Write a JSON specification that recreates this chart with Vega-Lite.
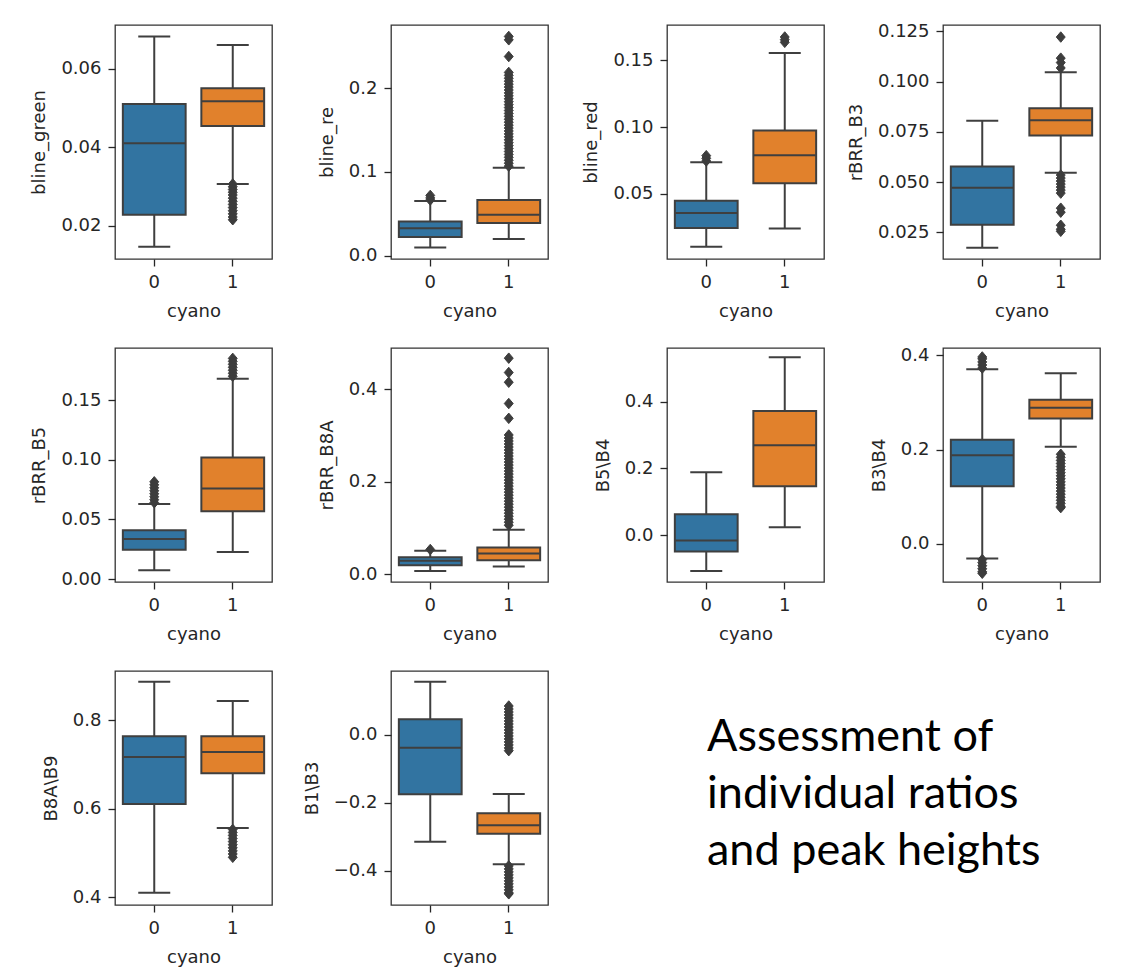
{
"$schema": "https://vega.github.io/schema/vega-lite/v6.json",
"background": "white",
"padding": {"left": 30, "top": 21, "right": 5, "bottom": 5},
"datasets": {"all": [
{"var":"bline_green","cyano":0,"lo":0.0146,"q1":0.0228,"med":0.041,"q3":0.051,"hi":0.0682},
{"var":"bline_green","cyano":1,"lo":0.0306,"q1":0.0454,"med":0.0517,"q3":0.055,"hi":0.066},
{"var":"bline_re","cyano":0,"lo":0.0096,"q1":0.0224,"med":0.0329,"q3":0.0408,"hi":0.0653},
{"var":"bline_re","cyano":1,"lo":0.02,"q1":0.0389,"med":0.0488,"q3":0.0665,"hi":0.1052},
{"var":"bline_red","cyano":0,"lo":0.0102,"q1":0.0243,"med":0.0355,"q3":0.0447,"hi":0.0735},
{"var":"bline_red","cyano":1,"lo":0.0238,"q1":0.0578,"med":0.0788,"q3":0.0973,"hi":0.1555},
{"var":"rBRR_B3","cyano":0,"lo":0.0173,"q1":0.0287,"med":0.0472,"q3":0.0578,"hi":0.0805},
{"var":"rBRR_B3","cyano":1,"lo":0.0547,"q1":0.0732,"med":0.0808,"q3":0.0867,"hi":0.1047},
{"var":"rBRR_B5","cyano":0,"lo":0.0073,"q1":0.0246,"med":0.0336,"q3":0.0409,"hi":0.063},
{"var":"rBRR_B5","cyano":1,"lo":0.0227,"q1":0.0568,"med":0.0759,"q3":0.1019,"hi":0.168},
{"var":"rBRR_B8A","cyano":0,"lo":0.0073,"q1":0.0196,"med":0.029,"q3":0.037,"hi":0.0508},
{"var":"rBRR_B8A","cyano":1,"lo":0.0167,"q1":0.0305,"med":0.045,"q3":0.058,"hi":0.0964},
{"var":"B5\\B4","cyano":0,"lo":-0.1078,"q1":-0.0494,"med":-0.0161,"q3":0.0625,"hi":0.1885},
{"var":"B5\\B4","cyano":1,"lo":0.0232,"q1":0.147,"med":0.27,"q3":0.373,"hi":0.534},
{"var":"B3\\B4","cyano":0,"lo":-0.0306,"q1":0.1225,"med":0.188,"q3":0.2207,"hi":0.37},
{"var":"B3\\B4","cyano":1,"lo":0.2058,"q1":0.2656,"med":0.2884,"q3":0.3054,"hi":0.3617},
{"var":"B8A\\B9","cyano":0,"lo":0.4105,"q1":0.611,"med":0.7172,"q3":0.7638,"hi":0.8873},
{"var":"B8A\\B9","cyano":1,"lo":0.5568,"q1":0.6803,"med":0.7285,"q3":0.7638,"hi":0.8437},
{"var":"B1\\B3","cyano":0,"lo":-0.3147,"q1":-0.1755,"med":-0.0382,"q3":0.0451,"hi":0.1559},
{"var":"B1\\B3","cyano":1,"lo":-0.3814,"q1":-0.2912,"med":-0.2667,"q3":-0.2314,"hi":-0.1745},
{"var":"bline_green","cyano":1,"out":0.0306},{"var":"bline_green","cyano":1,"out":0.0299},{"var":"bline_green","cyano":1,"out":0.0292},{"var":"bline_green","cyano":1,"out":0.0285},{"var":"bline_green","cyano":1,"out":0.0278},{"var":"bline_green","cyano":1,"out":0.027},{"var":"bline_green","cyano":1,"out":0.0262},{"var":"bline_green","cyano":1,"out":0.0254},{"var":"bline_green","cyano":1,"out":0.0246},{"var":"bline_green","cyano":1,"out":0.0238},{"var":"bline_green","cyano":1,"out":0.023},{"var":"bline_green","cyano":1,"out":0.0222},{"var":"bline_green","cyano":1,"out":0.0215},
{"var":"bline_re","cyano":0,"out":0.0665},{"var":"bline_re","cyano":0,"out":0.069},{"var":"bline_re","cyano":0,"out":0.072},
{"var":"bline_re","cyano":1,"out":0.107},{"var":"bline_re","cyano":1,"out":0.1105},{"var":"bline_re","cyano":1,"out":0.114},{"var":"bline_re","cyano":1,"out":0.1175},{"var":"bline_re","cyano":1,"out":0.121},{"var":"bline_re","cyano":1,"out":0.1245},{"var":"bline_re","cyano":1,"out":0.128},{"var":"bline_re","cyano":1,"out":0.1315},{"var":"bline_re","cyano":1,"out":0.135},{"var":"bline_re","cyano":1,"out":0.1385},{"var":"bline_re","cyano":1,"out":0.142},{"var":"bline_re","cyano":1,"out":0.1455},{"var":"bline_re","cyano":1,"out":0.149},{"var":"bline_re","cyano":1,"out":0.1525},{"var":"bline_re","cyano":1,"out":0.156},{"var":"bline_re","cyano":1,"out":0.1595},{"var":"bline_re","cyano":1,"out":0.163},{"var":"bline_re","cyano":1,"out":0.1665},{"var":"bline_re","cyano":1,"out":0.17},{"var":"bline_re","cyano":1,"out":0.1735},{"var":"bline_re","cyano":1,"out":0.177},{"var":"bline_re","cyano":1,"out":0.1805},{"var":"bline_re","cyano":1,"out":0.184},{"var":"bline_re","cyano":1,"out":0.1875},{"var":"bline_re","cyano":1,"out":0.191},{"var":"bline_re","cyano":1,"out":0.1945},{"var":"bline_re","cyano":1,"out":0.198},{"var":"bline_re","cyano":1,"out":0.2015},{"var":"bline_re","cyano":1,"out":0.205},{"var":"bline_re","cyano":1,"out":0.2085},{"var":"bline_re","cyano":1,"out":0.212},{"var":"bline_re","cyano":1,"out":0.2155},{"var":"bline_re","cyano":1,"out":0.219},{"var":"bline_re","cyano":1,"out":0.238},{"var":"bline_re","cyano":1,"out":0.258},{"var":"bline_re","cyano":1,"out":0.262},
{"var":"bline_red","cyano":0,"out":0.0745},{"var":"bline_red","cyano":0,"out":0.0765},{"var":"bline_red","cyano":0,"out":0.0785},
{"var":"bline_red","cyano":1,"out":0.1635},{"var":"bline_red","cyano":1,"out":0.1655},{"var":"bline_red","cyano":1,"out":0.1675},
{"var":"rBRR_B3","cyano":1,"out":0.1222},{"var":"rBRR_B3","cyano":1,"out":0.1117},{"var":"rBRR_B3","cyano":1,"out":0.1095},{"var":"rBRR_B3","cyano":1,"out":0.1068},{"var":"rBRR_B3","cyano":1,"out":0.0535},{"var":"rBRR_B3","cyano":1,"out":0.052},{"var":"rBRR_B3","cyano":1,"out":0.0505},{"var":"rBRR_B3","cyano":1,"out":0.049},{"var":"rBRR_B3","cyano":1,"out":0.0475},{"var":"rBRR_B3","cyano":1,"out":0.046},{"var":"rBRR_B3","cyano":1,"out":0.0445},{"var":"rBRR_B3","cyano":1,"out":0.037},{"var":"rBRR_B3","cyano":1,"out":0.035},{"var":"rBRR_B3","cyano":1,"out":0.0285},{"var":"rBRR_B3","cyano":1,"out":0.0265},{"var":"rBRR_B3","cyano":1,"out":0.0255},
{"var":"rBRR_B5","cyano":0,"out":0.064},{"var":"rBRR_B5","cyano":0,"out":0.0665},{"var":"rBRR_B5","cyano":0,"out":0.069},{"var":"rBRR_B5","cyano":0,"out":0.0715},{"var":"rBRR_B5","cyano":0,"out":0.074},{"var":"rBRR_B5","cyano":0,"out":0.0765},{"var":"rBRR_B5","cyano":0,"out":0.079},{"var":"rBRR_B5","cyano":0,"out":0.0815},
{"var":"rBRR_B5","cyano":1,"out":0.17},{"var":"rBRR_B5","cyano":1,"out":0.1725},{"var":"rBRR_B5","cyano":1,"out":0.175},{"var":"rBRR_B5","cyano":1,"out":0.1775},{"var":"rBRR_B5","cyano":1,"out":0.18},{"var":"rBRR_B5","cyano":1,"out":0.1825},{"var":"rBRR_B5","cyano":1,"out":0.185},
{"var":"rBRR_B8A","cyano":0,"out":0.0535},
{"var":"rBRR_B8A","cyano":1,"out":0.106},{"var":"rBRR_B8A","cyano":1,"out":0.1125},{"var":"rBRR_B8A","cyano":1,"out":0.119},{"var":"rBRR_B8A","cyano":1,"out":0.1255},{"var":"rBRR_B8A","cyano":1,"out":0.132},{"var":"rBRR_B8A","cyano":1,"out":0.1385},{"var":"rBRR_B8A","cyano":1,"out":0.145},{"var":"rBRR_B8A","cyano":1,"out":0.1515},{"var":"rBRR_B8A","cyano":1,"out":0.158},{"var":"rBRR_B8A","cyano":1,"out":0.1645},{"var":"rBRR_B8A","cyano":1,"out":0.171},{"var":"rBRR_B8A","cyano":1,"out":0.1775},{"var":"rBRR_B8A","cyano":1,"out":0.184},{"var":"rBRR_B8A","cyano":1,"out":0.1905},{"var":"rBRR_B8A","cyano":1,"out":0.197},{"var":"rBRR_B8A","cyano":1,"out":0.2035},{"var":"rBRR_B8A","cyano":1,"out":0.21},{"var":"rBRR_B8A","cyano":1,"out":0.2165},{"var":"rBRR_B8A","cyano":1,"out":0.223},{"var":"rBRR_B8A","cyano":1,"out":0.2295},{"var":"rBRR_B8A","cyano":1,"out":0.236},{"var":"rBRR_B8A","cyano":1,"out":0.2425},{"var":"rBRR_B8A","cyano":1,"out":0.249},{"var":"rBRR_B8A","cyano":1,"out":0.2555},{"var":"rBRR_B8A","cyano":1,"out":0.262},{"var":"rBRR_B8A","cyano":1,"out":0.2685},{"var":"rBRR_B8A","cyano":1,"out":0.275},{"var":"rBRR_B8A","cyano":1,"out":0.2815},{"var":"rBRR_B8A","cyano":1,"out":0.288},{"var":"rBRR_B8A","cyano":1,"out":0.2945},{"var":"rBRR_B8A","cyano":1,"out":0.301},{"var":"rBRR_B8A","cyano":1,"out":0.337},{"var":"rBRR_B8A","cyano":1,"out":0.369},{"var":"rBRR_B8A","cyano":1,"out":0.415},{"var":"rBRR_B8A","cyano":1,"out":0.436},{"var":"rBRR_B8A","cyano":1,"out":0.467},
{"var":"B3\\B4","cyano":0,"out":0.3725},{"var":"B3\\B4","cyano":0,"out":0.379},{"var":"B3\\B4","cyano":0,"out":0.3855},{"var":"B3\\B4","cyano":0,"out":0.392},{"var":"B3\\B4","cyano":0,"out":0.396},
{"var":"B3\\B4","cyano":0,"out":-0.033},{"var":"B3\\B4","cyano":0,"out":-0.0395},{"var":"B3\\B4","cyano":0,"out":-0.046},{"var":"B3\\B4","cyano":0,"out":-0.0525},{"var":"B3\\B4","cyano":0,"out":-0.059},{"var":"B3\\B4","cyano":0,"out":-0.062},
{"var":"B3\\B4","cyano":1,"out":0.19},{"var":"B3\\B4","cyano":1,"out":0.1835},{"var":"B3\\B4","cyano":1,"out":0.177},{"var":"B3\\B4","cyano":1,"out":0.1705},{"var":"B3\\B4","cyano":1,"out":0.164},{"var":"B3\\B4","cyano":1,"out":0.1575},{"var":"B3\\B4","cyano":1,"out":0.151},{"var":"B3\\B4","cyano":1,"out":0.1445},{"var":"B3\\B4","cyano":1,"out":0.138},{"var":"B3\\B4","cyano":1,"out":0.1315},{"var":"B3\\B4","cyano":1,"out":0.125},{"var":"B3\\B4","cyano":1,"out":0.1185},{"var":"B3\\B4","cyano":1,"out":0.112},{"var":"B3\\B4","cyano":1,"out":0.1055},{"var":"B3\\B4","cyano":1,"out":0.099},{"var":"B3\\B4","cyano":1,"out":0.0925},{"var":"B3\\B4","cyano":1,"out":0.086},{"var":"B3\\B4","cyano":1,"out":0.0795},{"var":"B3\\B4","cyano":1,"out":0.077},
{"var":"B8A\\B9","cyano":1,"out":0.5535},{"var":"B8A\\B9","cyano":1,"out":0.5467},{"var":"B8A\\B9","cyano":1,"out":0.54},{"var":"B8A\\B9","cyano":1,"out":0.533},{"var":"B8A\\B9","cyano":1,"out":0.526},{"var":"B8A\\B9","cyano":1,"out":0.519},{"var":"B8A\\B9","cyano":1,"out":0.512},{"var":"B8A\\B9","cyano":1,"out":0.505},{"var":"B8A\\B9","cyano":1,"out":0.498},{"var":"B8A\\B9","cyano":1,"out":0.4905},
{"var":"B1\\B3","cyano":1,"out":0.0843},{"var":"B1\\B3","cyano":1,"out":0.0755},{"var":"B1\\B3","cyano":1,"out":0.0667},{"var":"B1\\B3","cyano":1,"out":0.058},{"var":"B1\\B3","cyano":1,"out":0.049},{"var":"B1\\B3","cyano":1,"out":0.0402},{"var":"B1\\B3","cyano":1,"out":0.0314},{"var":"B1\\B3","cyano":1,"out":0.0226},{"var":"B1\\B3","cyano":1,"out":0.0138},{"var":"B1\\B3","cyano":1,"out":0.005},{"var":"B1\\B3","cyano":1,"out":-0.0038},{"var":"B1\\B3","cyano":1,"out":-0.0126},{"var":"B1\\B3","cyano":1,"out":-0.0214},{"var":"B1\\B3","cyano":1,"out":-0.0302},{"var":"B1\\B3","cyano":1,"out":-0.039},{"var":"B1\\B3","cyano":1,"out":-0.047},
{"var":"B1\\B3","cyano":1,"out":-0.386},{"var":"B1\\B3","cyano":1,"out":-0.3948},{"var":"B1\\B3","cyano":1,"out":-0.4036},{"var":"B1\\B3","cyano":1,"out":-0.4124},{"var":"B1\\B3","cyano":1,"out":-0.4212},{"var":"B1\\B3","cyano":1,"out":-0.43},{"var":"B1\\B3","cyano":1,"out":-0.4388},{"var":"B1\\B3","cyano":1,"out":-0.4476},{"var":"B1\\B3","cyano":1,"out":-0.4564},{"var":"B1\\B3","cyano":1,"out":-0.4652},{"var":"B1\\B3","cyano":1,"out":-0.468}
]},
"data": {"name": "all"},
"columns": 4,
"bounds": "flush",
"spacing": {"row": 89, "column": 119},
"concat": [
{"width":157,"height":234,"transform":[{"filter":{"field":"var","equal":"bline_green"}}],
 "encoding":{"x":{"field":"cyano","type":"nominal","scale":{"paddingInner":0,"paddingOuter":0},"axis":{"labelAngle":0,"title":"cyano"}}},
 "layer":[
  {"mark":{"type":"rule"},"encoding":{"y":{"field":"lo","type":"quantitative","scale":{"domain":[0.0115,0.0711],"nice":false,"zero":false},"axis":{"values":[0.02,0.04,0.06],"format":".2f","title":"bline_green"}},"y2":{"field":"hi"}}},
  {"mark":{"type":"tick","size":32},"encoding":{"y":{"field":"lo","type":"quantitative","scale":{"domain":[0.0115,0.0711],"nice":false,"zero":false},"axis":{"values":[0.02,0.04,0.06],"format":".2f","title":"bline_green"}}}},
  {"mark":{"type":"tick","size":32},"encoding":{"y":{"field":"hi","type":"quantitative","scale":{"domain":[0.0115,0.0711],"nice":false,"zero":false},"axis":{"values":[0.02,0.04,0.06],"format":".2f","title":"bline_green"}}}},
  {"mark":{"type":"bar","width":{"band":0.8}},"encoding":{"y":{"field":"q1","type":"quantitative","scale":{"domain":[0.0115,0.0711],"nice":false,"zero":false},"axis":{"values":[0.02,0.04,0.06],"format":".2f","title":"bline_green"}},"y2":{"field":"q3"},"color":{"field":"cyano","type":"nominal","scale":{"domain":[0,1],"range":["#3274a1","#e1812c"]},"legend":null}}},
  {"mark":{"type":"tick","size":62},"encoding":{"y":{"field":"med","type":"quantitative","scale":{"domain":[0.0115,0.0711],"nice":false,"zero":false},"axis":{"values":[0.02,0.04,0.06],"format":".2f","title":"bline_green"}}}},
  {"mark":{"type":"point"},"encoding":{"y":{"field":"out","type":"quantitative","scale":{"domain":[0.0115,0.0711],"nice":false,"zero":false},"axis":{"values":[0.02,0.04,0.06],"format":".2f","title":"bline_green"}}}}
 ]},
{"width":157,"height":234,"transform":[{"filter":{"field":"var","equal":"bline_re"}}],
 "encoding":{"x":{"field":"cyano","type":"nominal","scale":{"paddingInner":0,"paddingOuter":0},"axis":{"labelAngle":0,"title":"cyano"}}},
 "layer":[
  {"mark":{"type":"rule"},"encoding":{"y":{"field":"lo","type":"quantitative","scale":{"domain":[-0.004,0.2757],"nice":false,"zero":false},"axis":{"values":[0,0.1,0.2],"format":".1f","title":"bline_re"}},"y2":{"field":"hi"}}},
  {"mark":{"type":"tick","size":32},"encoding":{"y":{"field":"lo","type":"quantitative","scale":{"domain":[-0.004,0.2757],"nice":false,"zero":false},"axis":{"values":[0,0.1,0.2],"format":".1f","title":"bline_re"}}}},
  {"mark":{"type":"tick","size":32},"encoding":{"y":{"field":"hi","type":"quantitative","scale":{"domain":[-0.004,0.2757],"nice":false,"zero":false},"axis":{"values":[0,0.1,0.2],"format":".1f","title":"bline_re"}}}},
  {"mark":{"type":"bar","width":{"band":0.8}},"encoding":{"y":{"field":"q1","type":"quantitative","scale":{"domain":[-0.004,0.2757],"nice":false,"zero":false},"axis":{"values":[0,0.1,0.2],"format":".1f","title":"bline_re"}},"y2":{"field":"q3"},"color":{"field":"cyano","type":"nominal","scale":{"domain":[0,1],"range":["#3274a1","#e1812c"]},"legend":null}}},
  {"mark":{"type":"tick","size":62},"encoding":{"y":{"field":"med","type":"quantitative","scale":{"domain":[-0.004,0.2757],"nice":false,"zero":false},"axis":{"values":[0,0.1,0.2],"format":".1f","title":"bline_re"}}}},
  {"mark":{"type":"point"},"encoding":{"y":{"field":"out","type":"quantitative","scale":{"domain":[-0.004,0.2757],"nice":false,"zero":false},"axis":{"values":[0,0.1,0.2],"format":".1f","title":"bline_re"}}}}
 ]},
{"width":157,"height":234,"transform":[{"filter":{"field":"var","equal":"bline_red"}}],
 "encoding":{"x":{"field":"cyano","type":"nominal","scale":{"paddingInner":0,"paddingOuter":0},"axis":{"labelAngle":0,"title":"cyano"}}},
 "layer":[
  {"mark":{"type":"rule"},"encoding":{"y":{"field":"lo","type":"quantitative","scale":{"domain":[0.001,0.1765],"nice":false,"zero":false},"axis":{"values":[0.05,0.1,0.15],"format":".2f","title":"bline_red"}},"y2":{"field":"hi"}}},
  {"mark":{"type":"tick","size":32},"encoding":{"y":{"field":"lo","type":"quantitative","scale":{"domain":[0.001,0.1765],"nice":false,"zero":false},"axis":{"values":[0.05,0.1,0.15],"format":".2f","title":"bline_red"}}}},
  {"mark":{"type":"tick","size":32},"encoding":{"y":{"field":"hi","type":"quantitative","scale":{"domain":[0.001,0.1765],"nice":false,"zero":false},"axis":{"values":[0.05,0.1,0.15],"format":".2f","title":"bline_red"}}}},
  {"mark":{"type":"bar","width":{"band":0.8}},"encoding":{"y":{"field":"q1","type":"quantitative","scale":{"domain":[0.001,0.1765],"nice":false,"zero":false},"axis":{"values":[0.05,0.1,0.15],"format":".2f","title":"bline_red"}},"y2":{"field":"q3"},"color":{"field":"cyano","type":"nominal","scale":{"domain":[0,1],"range":["#3274a1","#e1812c"]},"legend":null}}},
  {"mark":{"type":"tick","size":62},"encoding":{"y":{"field":"med","type":"quantitative","scale":{"domain":[0.001,0.1765],"nice":false,"zero":false},"axis":{"values":[0.05,0.1,0.15],"format":".2f","title":"bline_red"}}}},
  {"mark":{"type":"point"},"encoding":{"y":{"field":"out","type":"quantitative","scale":{"domain":[0.001,0.1765],"nice":false,"zero":false},"axis":{"values":[0.05,0.1,0.15],"format":".2f","title":"bline_red"}}}}
 ]},
{"width":157,"height":234,"transform":[{"filter":{"field":"var","equal":"rBRR_B3"}}],
 "encoding":{"x":{"field":"cyano","type":"nominal","scale":{"paddingInner":0,"paddingOuter":0},"axis":{"labelAngle":0,"title":"cyano"}}},
 "layer":[
  {"mark":{"type":"rule"},"encoding":{"y":{"field":"lo","type":"quantitative","scale":{"domain":[0.0117,0.1282],"nice":false,"zero":false},"axis":{"values":[0.025,0.05,0.075,0.1,0.125],"format":".3f","title":"rBRR_B3"}},"y2":{"field":"hi"}}},
  {"mark":{"type":"tick","size":32},"encoding":{"y":{"field":"lo","type":"quantitative","scale":{"domain":[0.0117,0.1282],"nice":false,"zero":false},"axis":{"values":[0.025,0.05,0.075,0.1,0.125],"format":".3f","title":"rBRR_B3"}}}},
  {"mark":{"type":"tick","size":32},"encoding":{"y":{"field":"hi","type":"quantitative","scale":{"domain":[0.0117,0.1282],"nice":false,"zero":false},"axis":{"values":[0.025,0.05,0.075,0.1,0.125],"format":".3f","title":"rBRR_B3"}}}},
  {"mark":{"type":"bar","width":{"band":0.8}},"encoding":{"y":{"field":"q1","type":"quantitative","scale":{"domain":[0.0117,0.1282],"nice":false,"zero":false},"axis":{"values":[0.025,0.05,0.075,0.1,0.125],"format":".3f","title":"rBRR_B3"}},"y2":{"field":"q3"},"color":{"field":"cyano","type":"nominal","scale":{"domain":[0,1],"range":["#3274a1","#e1812c"]},"legend":null}}},
  {"mark":{"type":"tick","size":62},"encoding":{"y":{"field":"med","type":"quantitative","scale":{"domain":[0.0117,0.1282],"nice":false,"zero":false},"axis":{"values":[0.025,0.05,0.075,0.1,0.125],"format":".3f","title":"rBRR_B3"}}}},
  {"mark":{"type":"point"},"encoding":{"y":{"field":"out","type":"quantitative","scale":{"domain":[0.0117,0.1282],"nice":false,"zero":false},"axis":{"values":[0.025,0.05,0.075,0.1,0.125],"format":".3f","title":"rBRR_B3"}}}}
 ]},
{"width":157,"height":234,"transform":[{"filter":{"field":"var","equal":"rBRR_B5"}}],
 "encoding":{"x":{"field":"cyano","type":"nominal","scale":{"paddingInner":0,"paddingOuter":0},"axis":{"labelAngle":0,"title":"cyano"}}},
 "layer":[
  {"mark":{"type":"rule"},"encoding":{"y":{"field":"lo","type":"quantitative","scale":{"domain":[-0.0025,0.1937],"nice":false,"zero":false},"axis":{"values":[0,0.05,0.1,0.15],"format":".2f","title":"rBRR_B5"}},"y2":{"field":"hi"}}},
  {"mark":{"type":"tick","size":32},"encoding":{"y":{"field":"lo","type":"quantitative","scale":{"domain":[-0.0025,0.1937],"nice":false,"zero":false},"axis":{"values":[0,0.05,0.1,0.15],"format":".2f","title":"rBRR_B5"}}}},
  {"mark":{"type":"tick","size":32},"encoding":{"y":{"field":"hi","type":"quantitative","scale":{"domain":[-0.0025,0.1937],"nice":false,"zero":false},"axis":{"values":[0,0.05,0.1,0.15],"format":".2f","title":"rBRR_B5"}}}},
  {"mark":{"type":"bar","width":{"band":0.8}},"encoding":{"y":{"field":"q1","type":"quantitative","scale":{"domain":[-0.0025,0.1937],"nice":false,"zero":false},"axis":{"values":[0,0.05,0.1,0.15],"format":".2f","title":"rBRR_B5"}},"y2":{"field":"q3"},"color":{"field":"cyano","type":"nominal","scale":{"domain":[0,1],"range":["#3274a1","#e1812c"]},"legend":null}}},
  {"mark":{"type":"tick","size":62},"encoding":{"y":{"field":"med","type":"quantitative","scale":{"domain":[-0.0025,0.1937],"nice":false,"zero":false},"axis":{"values":[0,0.05,0.1,0.15],"format":".2f","title":"rBRR_B5"}}}},
  {"mark":{"type":"point"},"encoding":{"y":{"field":"out","type":"quantitative","scale":{"domain":[-0.0025,0.1937],"nice":false,"zero":false},"axis":{"values":[0,0.05,0.1,0.15],"format":".2f","title":"rBRR_B5"}}}}
 ]},
{"width":157,"height":234,"transform":[{"filter":{"field":"var","equal":"rBRR_B8A"}}],
 "encoding":{"x":{"field":"cyano","type":"nominal","scale":{"paddingInner":0,"paddingOuter":0},"axis":{"labelAngle":0,"title":"cyano"}}},
 "layer":[
  {"mark":{"type":"rule"},"encoding":{"y":{"field":"lo","type":"quantitative","scale":{"domain":[-0.0167,0.489],"nice":false,"zero":false},"axis":{"values":[0,0.2,0.4],"format":".1f","title":"rBRR_B8A"}},"y2":{"field":"hi"}}},
  {"mark":{"type":"tick","size":32},"encoding":{"y":{"field":"lo","type":"quantitative","scale":{"domain":[-0.0167,0.489],"nice":false,"zero":false},"axis":{"values":[0,0.2,0.4],"format":".1f","title":"rBRR_B8A"}}}},
  {"mark":{"type":"tick","size":32},"encoding":{"y":{"field":"hi","type":"quantitative","scale":{"domain":[-0.0167,0.489],"nice":false,"zero":false},"axis":{"values":[0,0.2,0.4],"format":".1f","title":"rBRR_B8A"}}}},
  {"mark":{"type":"bar","width":{"band":0.8}},"encoding":{"y":{"field":"q1","type":"quantitative","scale":{"domain":[-0.0167,0.489],"nice":false,"zero":false},"axis":{"values":[0,0.2,0.4],"format":".1f","title":"rBRR_B8A"}},"y2":{"field":"q3"},"color":{"field":"cyano","type":"nominal","scale":{"domain":[0,1],"range":["#3274a1","#e1812c"]},"legend":null}}},
  {"mark":{"type":"tick","size":62},"encoding":{"y":{"field":"med","type":"quantitative","scale":{"domain":[-0.0167,0.489],"nice":false,"zero":false},"axis":{"values":[0,0.2,0.4],"format":".1f","title":"rBRR_B8A"}}}},
  {"mark":{"type":"point"},"encoding":{"y":{"field":"out","type":"quantitative","scale":{"domain":[-0.0167,0.489],"nice":false,"zero":false},"axis":{"values":[0,0.2,0.4],"format":".1f","title":"rBRR_B8A"}}}}
 ]},
{"width":157,"height":234,"transform":[{"filter":{"field":"var","equal":"B5\\B4"}}],
 "encoding":{"x":{"field":"cyano","type":"nominal","scale":{"paddingInner":0,"paddingOuter":0},"axis":{"labelAngle":0,"title":"cyano"}}},
 "layer":[
  {"mark":{"type":"rule"},"encoding":{"y":{"field":"lo","type":"quantitative","scale":{"domain":[-0.141,0.562],"nice":false,"zero":false},"axis":{"values":[0,0.2,0.4],"format":".1f","title":"B5\\B4"}},"y2":{"field":"hi"}}},
  {"mark":{"type":"tick","size":32},"encoding":{"y":{"field":"lo","type":"quantitative","scale":{"domain":[-0.141,0.562],"nice":false,"zero":false},"axis":{"values":[0,0.2,0.4],"format":".1f","title":"B5\\B4"}}}},
  {"mark":{"type":"tick","size":32},"encoding":{"y":{"field":"hi","type":"quantitative","scale":{"domain":[-0.141,0.562],"nice":false,"zero":false},"axis":{"values":[0,0.2,0.4],"format":".1f","title":"B5\\B4"}}}},
  {"mark":{"type":"bar","width":{"band":0.8}},"encoding":{"y":{"field":"q1","type":"quantitative","scale":{"domain":[-0.141,0.562],"nice":false,"zero":false},"axis":{"values":[0,0.2,0.4],"format":".1f","title":"B5\\B4"}},"y2":{"field":"q3"},"color":{"field":"cyano","type":"nominal","scale":{"domain":[0,1],"range":["#3274a1","#e1812c"]},"legend":null}}},
  {"mark":{"type":"tick","size":62},"encoding":{"y":{"field":"med","type":"quantitative","scale":{"domain":[-0.141,0.562],"nice":false,"zero":false},"axis":{"values":[0,0.2,0.4],"format":".1f","title":"B5\\B4"}}}}
 ]},
{"width":157,"height":234,"transform":[{"filter":{"field":"var","equal":"B3\\B4"}}],
 "encoding":{"x":{"field":"cyano","type":"nominal","scale":{"paddingInner":0,"paddingOuter":0},"axis":{"labelAngle":0,"title":"cyano"}}},
 "layer":[
  {"mark":{"type":"rule"},"encoding":{"y":{"field":"lo","type":"quantitative","scale":{"domain":[-0.0805,0.415],"nice":false,"zero":false},"axis":{"values":[0,0.2,0.4],"format":".1f","title":"B3\\B4"}},"y2":{"field":"hi"}}},
  {"mark":{"type":"tick","size":32},"encoding":{"y":{"field":"lo","type":"quantitative","scale":{"domain":[-0.0805,0.415],"nice":false,"zero":false},"axis":{"values":[0,0.2,0.4],"format":".1f","title":"B3\\B4"}}}},
  {"mark":{"type":"tick","size":32},"encoding":{"y":{"field":"hi","type":"quantitative","scale":{"domain":[-0.0805,0.415],"nice":false,"zero":false},"axis":{"values":[0,0.2,0.4],"format":".1f","title":"B3\\B4"}}}},
  {"mark":{"type":"bar","width":{"band":0.8}},"encoding":{"y":{"field":"q1","type":"quantitative","scale":{"domain":[-0.0805,0.415],"nice":false,"zero":false},"axis":{"values":[0,0.2,0.4],"format":".1f","title":"B3\\B4"}},"y2":{"field":"q3"},"color":{"field":"cyano","type":"nominal","scale":{"domain":[0,1],"range":["#3274a1","#e1812c"]},"legend":null}}},
  {"mark":{"type":"tick","size":62},"encoding":{"y":{"field":"med","type":"quantitative","scale":{"domain":[-0.0805,0.415],"nice":false,"zero":false},"axis":{"values":[0,0.2,0.4],"format":".1f","title":"B3\\B4"}}}},
  {"mark":{"type":"point"},"encoding":{"y":{"field":"out","type":"quantitative","scale":{"domain":[-0.0805,0.415],"nice":false,"zero":false},"axis":{"values":[0,0.2,0.4],"format":".1f","title":"B3\\B4"}}}}
 ]},
{"width":157,"height":234,"transform":[{"filter":{"field":"var","equal":"B8A\\B9"}}],
 "encoding":{"x":{"field":"cyano","type":"nominal","scale":{"paddingInner":0,"paddingOuter":0},"axis":{"labelAngle":0,"title":"cyano"}}},
 "layer":[
  {"mark":{"type":"rule"},"encoding":{"y":{"field":"lo","type":"quantitative","scale":{"domain":[0.3827,0.9115],"nice":false,"zero":false},"axis":{"values":[0.4,0.6,0.8],"format":".1f","title":"B8A\\B9"}},"y2":{"field":"hi"}}},
  {"mark":{"type":"tick","size":32},"encoding":{"y":{"field":"lo","type":"quantitative","scale":{"domain":[0.3827,0.9115],"nice":false,"zero":false},"axis":{"values":[0.4,0.6,0.8],"format":".1f","title":"B8A\\B9"}}}},
  {"mark":{"type":"tick","size":32},"encoding":{"y":{"field":"hi","type":"quantitative","scale":{"domain":[0.3827,0.9115],"nice":false,"zero":false},"axis":{"values":[0.4,0.6,0.8],"format":".1f","title":"B8A\\B9"}}}},
  {"mark":{"type":"bar","width":{"band":0.8}},"encoding":{"y":{"field":"q1","type":"quantitative","scale":{"domain":[0.3827,0.9115],"nice":false,"zero":false},"axis":{"values":[0.4,0.6,0.8],"format":".1f","title":"B8A\\B9"}},"y2":{"field":"q3"},"color":{"field":"cyano","type":"nominal","scale":{"domain":[0,1],"range":["#3274a1","#e1812c"]},"legend":null}}},
  {"mark":{"type":"tick","size":62},"encoding":{"y":{"field":"med","type":"quantitative","scale":{"domain":[0.3827,0.9115],"nice":false,"zero":false},"axis":{"values":[0.4,0.6,0.8],"format":".1f","title":"B8A\\B9"}}}},
  {"mark":{"type":"point"},"encoding":{"y":{"field":"out","type":"quantitative","scale":{"domain":[0.3827,0.9115],"nice":false,"zero":false},"axis":{"values":[0.4,0.6,0.8],"format":".1f","title":"B8A\\B9"}}}}
 ]},
{"width":157,"height":234,"transform":[{"filter":{"field":"var","equal":"B1\\B3"}}],
 "encoding":{"x":{"field":"cyano","type":"nominal","scale":{"paddingInner":0,"paddingOuter":0},"axis":{"labelAngle":0,"title":"cyano"}}},
 "layer":[
  {"mark":{"type":"rule"},"encoding":{"y":{"field":"lo","type":"quantitative","scale":{"domain":[-0.5009,0.1873],"nice":false,"zero":false},"axis":{"values":[-0.4,-0.2,0],"format":".1f","title":"B1\\B3"}},"y2":{"field":"hi"}}},
  {"mark":{"type":"tick","size":32},"encoding":{"y":{"field":"lo","type":"quantitative","scale":{"domain":[-0.5009,0.1873],"nice":false,"zero":false},"axis":{"values":[-0.4,-0.2,0],"format":".1f","title":"B1\\B3"}}}},
  {"mark":{"type":"tick","size":32},"encoding":{"y":{"field":"hi","type":"quantitative","scale":{"domain":[-0.5009,0.1873],"nice":false,"zero":false},"axis":{"values":[-0.4,-0.2,0],"format":".1f","title":"B1\\B3"}}}},
  {"mark":{"type":"bar","width":{"band":0.8}},"encoding":{"y":{"field":"q1","type":"quantitative","scale":{"domain":[-0.5009,0.1873],"nice":false,"zero":false},"axis":{"values":[-0.4,-0.2,0],"format":".1f","title":"B1\\B3"}},"y2":{"field":"q3"},"color":{"field":"cyano","type":"nominal","scale":{"domain":[0,1],"range":["#3274a1","#e1812c"]},"legend":null}}},
  {"mark":{"type":"tick","size":62},"encoding":{"y":{"field":"med","type":"quantitative","scale":{"domain":[-0.5009,0.1873],"nice":false,"zero":false},"axis":{"values":[-0.4,-0.2,0],"format":".1f","title":"B1\\B3"}}}},
  {"mark":{"type":"point"},"encoding":{"y":{"field":"out","type":"quantitative","scale":{"domain":[-0.5009,0.1873],"nice":false,"zero":false},"axis":{"values":[-0.4,-0.2,0],"format":".1f","title":"B1\\B3"}}}}
 ]},
{"width":157,"height":234,"view":{"stroke":null},
 "data":{"values":[{"label":"Assessment of\nindividual ratios\nand peak heights"}]},
 "mark":{"type":"text","font":"Lato","fontSize":45,"align":"left","baseline":"alphabetic","lineBreak":"\n","lineHeight":57,"dx":-38.5,"dy":-37,"color":"#000000"},
 "encoding":{"text":{"field":"label","type":"nominal"}}}
],
"config": {
 "view": {"stroke": "#333333", "strokeWidth": 1.3},
 "axis": {"domain": false, "grid": false, "tickColor": "#262626", "tickSize": 7, "tickWidth": 1.3, "labelFont": "DejaVu Sans", "labelFontSize": 18, "labelColor": "#262626", "labelOverlap": false, "titleFont": "DejaVu Sans", "titleFontSize": 18, "titleFontWeight": "normal", "titleColor": "#262626"},
 "axisY": {"labelPadding": 7, "titlePadding": 12},
 "axisX": {"labelPadding": 7, "titlePadding": 11},
 "rule": {"color": "#3f3f3f", "strokeWidth": 2},
 "tick": {"color": "#3f3f3f", "opacity": 1, "thickness": 2},
 "bar": {"stroke": "#3f3f3f", "strokeWidth": 2},
 "point": {"shape": "M0,-1L0.85,0L0,1L-0.85,0Z", "filled": true, "color": "#3d3d3d", "stroke": "#3d3d3d", "strokeWidth": 1, "opacity": 1, "size": 110}
}
}
